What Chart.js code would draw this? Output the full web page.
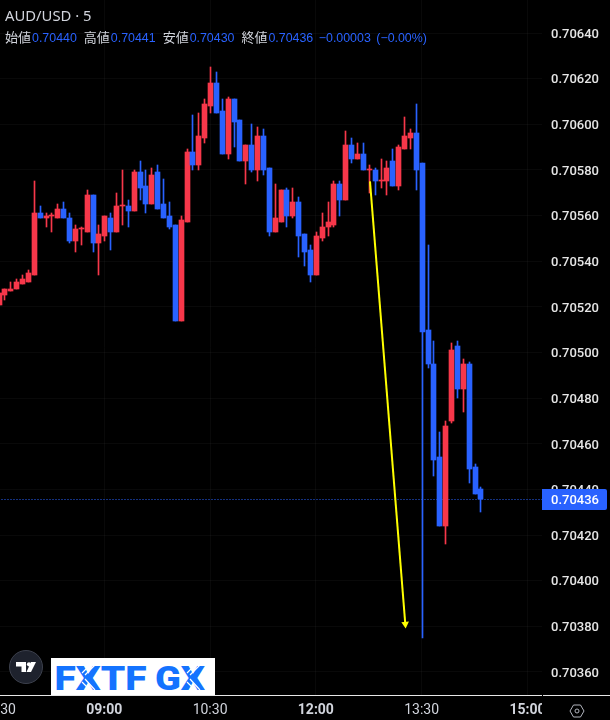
<!DOCTYPE html>
<html>
<head>
<meta charset="utf-8">
<title>AUD/USD 5</title>
<script src="https://cdn.jsdelivr.net/npm/chart.js@4"></script>
<style>
  html, body { margin: 0; background: #000; }
  #wrap { position: relative; width: 610px; height: 720px; overflow: hidden; font-family: "Liberation Sans", sans-serif; }
  canvas { position: absolute; left: 0; top: 0; }
  .symbol { position: absolute; left: 5px; top: 6px; color: #d1d4dc; font: 14.8px/18px "Noto Sans", sans-serif; }
  .ohlc { position: absolute; left: 5px; top: 29px; font-size: 12.4px; line-height: 16px; white-space: nowrap; color: #2962ff; }
  .ohlc b { font: 13px/16px "Noto Sans CJK JP", sans-serif; color: #d1d4dc; margin-left: 7px; margin-right: 1px; }
  .ohlc b:first-child { margin-left: 0; }
  .ohlc i { font-style: normal; margin-left: 5.5px; }
  .logo { position: absolute; left: 51px; top: 658px; }
  .tv { position: absolute; left: 8px; top: 649px; }
</style>
</head>
<body>
<div id="wrap">
  <canvas id="chart" width="610" height="720"></canvas>
  <div class="symbol">AUD/USD · 5</div>
  <div class="ohlc"><b>始値</b>0.70440<b>高値</b>0.70441<b>安値</b>0.70430<b>終値</b>0.70436<i>−0.00003</i><i>(−0.00%)</i></div>
  <svg class="tv" width="36" height="36" viewBox="0 0 36 36">
    <circle cx="18" cy="18" r="16.5" fill="#1e222d" stroke="#3c404c" stroke-width="1"/>
    <path d="M8 13H18V23H13.5V17.5H8Z" fill="#fff"/>
    <circle cx="21" cy="15.3" r="2.1" fill="#fff"/>
    <path d="M23 13H28L23 23H18.5Z" fill="#fff"/>
  </svg>
  <svg class="logo" width="164" height="37" viewBox="0 0 164 37">
    <rect width="164" height="37" fill="#fff"/>
    <g fill="#1473ff" font-family="Roboto" font-weight="900" font-size="33">
      <text x="3.5" y="32" textLength="92" lengthAdjust="spacingAndGlyphs">FXTF</text>
      <text x="104" y="32" textLength="50" lengthAdjust="spacingAndGlyphs">GX</text>
    </g>
    <g stroke="#fff" stroke-width="1.2">
      <path d="M31 15L42 4M34 17L45 6M34 21L44 32M31 24L41 34"/>
      <path d="M136 15L147 4M139 17L150 6M139 21L149 32M136 24L146 34"/>
    </g>
  </svg>
</div>
<script>
const opens = [
  0.70521, 0.70525, 0.70527, 0.70528, 0.70530, 0.70531, 0.70534, 0.70561, 0.70559, 0.70560,
  0.70559, 0.70563, 0.70559, 0.70549, 0.70554, 0.70553, 0.70569, 0.70548, 0.70551, 0.70559,
  0.70553, 0.70564, 0.70564, 0.70562, 0.70579, 0.70573, 0.70565, 0.70579, 0.70565, 0.70560,
  0.70556, 0.70514, 0.70557, 0.70588, 0.70582, 0.70594, 0.70608, 0.70618, 0.70606, 0.70587,
  0.70611, 0.70602, 0.70584, 0.70591, 0.70580, 0.70595, 0.70581, 0.70553, 0.70557, 0.70571,
  0.70560, 0.70566, 0.70552, 0.70545, 0.70534, 0.70550, 0.70555, 0.70556, 0.70574, 0.70567,
  0.70591, 0.70585, 0.70587, 0.70580, 0.70580, 0.70575, 0.70575, 0.70584, 0.70573, 0.70589,
  0.70594, 0.70596, 0.70583, 0.70510, 0.70495, 0.70454, 0.70424, 0.70470, 0.70503, 0.70484,
  0.70495, 0.70450, 0.70440
];
const highs = [
  0.70526, 0.70528, 0.70531, 0.70532, 0.70534, 0.70536, 0.70575, 0.70564, 0.70561, 0.70561,
  0.70565, 0.70566, 0.70561, 0.70556, 0.70555, 0.70571, 0.70569, 0.70556, 0.70560, 0.70561,
  0.70570, 0.70580, 0.70567, 0.70580, 0.70584, 0.70580, 0.70581, 0.70582, 0.70576, 0.70566,
  0.70556, 0.70560, 0.70589, 0.70604, 0.70605, 0.70611, 0.70625, 0.70623, 0.70611, 0.70612,
  0.70611, 0.70602, 0.70591, 0.70600, 0.70599, 0.70598, 0.70581, 0.70574, 0.70571, 0.70572,
  0.70572, 0.70568, 0.70552, 0.70547, 0.70553, 0.70561, 0.70566, 0.70575, 0.70575, 0.70597,
  0.70594, 0.70592, 0.70592, 0.70582, 0.70581, 0.70585, 0.70584, 0.70589, 0.70591, 0.70603,
  0.70598, 0.70609, 0.70583, 0.70547, 0.70505, 0.70465, 0.70470, 0.70504, 0.70505, 0.70497,
  0.70496, 0.70451, 0.70441
];
const lows = [
  0.70521, 0.70523, 0.70527, 0.70528, 0.70530, 0.70531, 0.70534, 0.70559, 0.70555, 0.70553,
  0.70559, 0.70559, 0.70548, 0.70544, 0.70547, 0.70553, 0.70544, 0.70534, 0.70549, 0.70545,
  0.70553, 0.70556, 0.70555, 0.70562, 0.70567, 0.70561, 0.70565, 0.70563, 0.70559, 0.70554,
  0.70514, 0.70514, 0.70557, 0.70580, 0.70580, 0.70592, 0.70605, 0.70605, 0.70587, 0.70585,
  0.70590, 0.70584, 0.70574, 0.70579, 0.70575, 0.70578, 0.70551, 0.70553, 0.70557, 0.70555,
  0.70559, 0.70542, 0.70538, 0.70531, 0.70534, 0.70549, 0.70551, 0.70555, 0.70560, 0.70567,
  0.70583, 0.70585, 0.70580, 0.70570, 0.70569, 0.70572, 0.70569, 0.70573, 0.70571, 0.70589,
  0.70589, 0.70571, 0.70375, 0.70493, 0.70446, 0.70424, 0.70416, 0.70469, 0.70480, 0.70474,
  0.70443, 0.70438, 0.70430
];
const closes = [
  0.70526, 0.70528, 0.70528, 0.70531, 0.70532, 0.70535, 0.70561, 0.70559, 0.70560, 0.70560,
  0.70563, 0.70559, 0.70549, 0.70554, 0.70554, 0.70569, 0.70548, 0.70552, 0.70560, 0.70553,
  0.70564, 0.70564, 0.70562, 0.70579, 0.70572, 0.70565, 0.70578, 0.70563, 0.70559, 0.70555,
  0.70514, 0.70558, 0.70588, 0.70582, 0.70595, 0.70609, 0.70618, 0.70605, 0.70587, 0.70611,
  0.70601, 0.70584, 0.70591, 0.70580, 0.70595, 0.70580, 0.70553, 0.70559, 0.70571, 0.70560,
  0.70566, 0.70551, 0.70544, 0.70534, 0.70551, 0.70555, 0.70557, 0.70574, 0.70567, 0.70591,
  0.70585, 0.70587, 0.70580, 0.70580, 0.70575, 0.70575, 0.70581, 0.70573, 0.70590, 0.70595,
  0.70596, 0.70580, 0.70509, 0.70495, 0.70453, 0.70424, 0.70468, 0.70501, 0.70484, 0.70495,
  0.70449, 0.70438, 0.70436
];

const timeTicks = [0, 18, 36, 54, 72, 90];
const timeLabels = ["07:30", "09:00", "10:30", "12:00", "13:30", "15:00"];
const boldTimes = ["09:00", "12:00", "15:00"];
const priceTicks = [0.7036, 0.7038, 0.7040, 0.7042, 0.7044, 0.7046, 0.7048, 0.7050, 0.7052,
                    0.7054, 0.7056, 0.7058, 0.7060, 0.7062, 0.7064];
const lastPrice = 0.70436;

// yellow arrow drawn on the chart
const arrowBars = [63.21, 69.22];
const arrowPrices = [0.70575, 0.70381];

const UP = "#f7374a";
const DOWN = "#2962ff";
const barIndex = opens.map((_, i) => i);
const barColors = barIndex.map(i => (closes[i] >= opens[i] ? UP : DOWN));

// chart.js keeps room for the first/last tick label, the reference runs to the edge
function noLabelPadding(s) {
  s.paddingLeft = s.paddingRight = s.paddingTop = s.paddingBottom = 0;
  if (s._margins) s._margins = { left: 0, right: 0, top: 0, bottom: 0 };
}

// candles land on whole pixels in the reference, so snap the bar elements
const snapBars = {
  id: "snapBars",
  afterDatasetsUpdate(chart) {
    chart.data.datasets.forEach((ds, d) => {
      const els = chart.getDatasetMeta(d).data;
      if (ds.type === "bar") {
        els.forEach(el => {
          el.x = Math.round(el.x) + 0.5;
          el.y = Math.round(el.y);
          el.base = Math.round(el.base);
          if (el.base === el.y) el.y = el.base - 1;
        });
      } else if (ds.isLastPrice) {
        els.forEach(el => { el.y = Math.round(el.y) + 0.5; });
      }
    });
  },
};

// price tag, axis rule and the corner icon
const chrome = {
  id: "chrome",
  afterDraw(chart) {
    const { ctx, scales } = chart;
    ctx.save();
    ctx.fillStyle = "#000";
    ctx.fillRect(542, 696, 68, 24);
    ctx.fillStyle = "#e6e6e6";
    ctx.fillRect(0, 695, 542, 1);
    ctx.fillRect(543, 695, 67, 1);

    const y = Math.round(scales.y.getPixelForValue(lastPrice));
    ctx.fillStyle = DOWN;
    ctx.beginPath();
    ctx.roundRect(542, y - 10, 65, 21, [0, 2, 2, 0]);
    ctx.fill();
    ctx.fillStyle = "#fff";
    ctx.font = "500 13px Roboto";
    ctx.textBaseline = "middle";
    ctx.fillText(lastPrice.toFixed(5), 551, y + 2);

    ctx.strokeStyle = "#b2b5be";
    ctx.lineWidth = 1;
    ctx.beginPath();
    [[570, 711], [573.5, 705], [580.5, 705], [584, 711], [580.5, 717], [573.5, 717]].forEach(p => ctx.lineTo(p[0], p[1]));
    ctx.closePath();
    ctx.stroke();
    ctx.beginPath();
    ctx.arc(577, 711, 2, 0, Math.PI * 2);
    ctx.stroke();
    ctx.restore();
  },
};

new Chart(document.getElementById("chart"), {
  data: {
    datasets: [
      {
        type: "line",
        data: arrowBars.map((x, i) => ({ x, y: arrowPrices[i] })),
        borderColor: "#ffff00",
        backgroundColor: "#ffff00",
        borderWidth: 2,
        pointStyle: "triangle",
        pointRadius: [0, 4.4],
        pointRotation: 175.5,
        pointBorderWidth: 0,
        order: 0,
      },
      {
        type: "bar",
        data: barIndex.map(i => ({ x: i, y: [opens[i], closes[i]] })),
        backgroundColor: barColors,
        barThickness: 5,
        grouped: false,
        minBarLength: 1,
        order: 1,
      },
      {
        type: "bar",
        data: barIndex.map(i => ({ x: i, y: [lows[i], highs[i]] })),
        backgroundColor: barColors,
        barThickness: 1,
        grouped: false,
        order: 2,
      },
      {
        type: "line",
        isLastPrice: true,
        data: [{ x: 0, y: lastPrice }, { x: 93, y: lastPrice }],
        borderColor: DOWN,
        borderWidth: 1,
        borderDash: [1, 2],
        pointRadius: 0,
        order: 3,
      },
    ],
  },
  options: {
    responsive: false,
    animation: false,
    layout: { padding: 0, autoPadding: false },
    plugins: { legend: { display: false }, tooltip: { enabled: false } },
    scales: {
      x: {
        type: "linear",
        offset: false,
        min: 0.2552,
        max: 92.48,
        border: { display: false },
        grid: { color: "rgba(255,255,255,0.035)", offset: false, drawTicks: false },
        afterBuildTicks(s) { s.ticks = timeTicks.map(value => ({ value })); },
        afterFit(s) { s.height = 25; noLabelPadding(s); },
        ticks: {
          autoSkip: false,
          maxRotation: 0,
          padding: 7,
          color: "#d1d4dc",
          font: c => ({ family: "Roboto", size: 14, weight: boldTimes.includes(timeLabels[c.index]) ? "700" : "400" }),
          callback: (v, i) => timeLabels[i],
        },
      },
      y: {
        position: "right",
        min: 0.7034992,
        max: 0.7065448,
        border: { display: false },
        grid: { color: "rgba(255,255,255,0.035)", drawTicks: false },
        afterBuildTicks(s) { s.ticks = priceTicks.map(value => ({ value })); },
        afterFit(s) { s.width = 68; noLabelPadding(s); },
        ticks: {
          padding: 9,
          labelOffset: 1.5,
          color: "#e6e6e6",
          font: { family: "Roboto", size: 13, weight: "500" },
          callback: v => v.toFixed(5),
        },
      },
    },
  },
  plugins: [snapBars, chrome],
});
</script>
</body>
</html>
